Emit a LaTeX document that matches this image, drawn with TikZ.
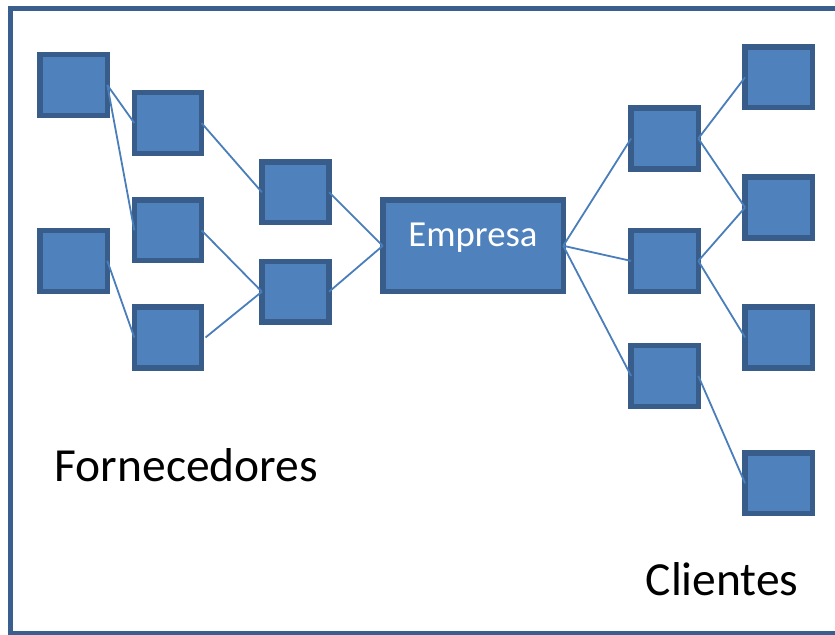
\documentclass[tikz,border=0pt]{standalone}
\usepackage{fontspec}
\setmainfont{Carlito}
\definecolor{boxfill}{HTML}{4F81BD}
\definecolor{boxline}{HTML}{385D8A}
\definecolor{frameline}{HTML}{3A5F8E}
\definecolor{conn}{HTML}{4A7EBB}
\tikzset{
  unit/.style={draw=boxline, fill=boxfill, line width=5.5bp, minimum width=67.2bp, minimum height=60.8bp, inner sep=0pt, outer sep=0pt},
  hub/.style={draw=boxline, fill=boxfill, line width=5.5bp, minimum width=180.5bp, minimum height=91.5bp, inner sep=0pt, outer sep=0pt},
  link/.style={draw=conn, line width=1.8bp},
  caption/.style={font=\fontsize{47.5bp}{52bp}\selectfont, text=black, inner sep=0pt, anchor=base west}
}
\begin{document}
\begin{tikzpicture}[x=1bp, y=-1bp]
\useasboundingbox (0,0) rectangle (835,635);
\clip (0,0) rectangle (835,635);
\draw[frameline, line width=5bp] (10,8.5) rectangle (845,633.5);
% suppliers
\node[unit] (a1) at (73.7,85) {};
\node[unit] (a2) at (73.7,260.9) {};
\node[unit] (b1) at (167.9,123) {};
\node[unit] (b2) at (167.9,230.3) {};
\node[unit] (b3) at (167.9,337.5) {};
\node[unit] (c1) at (295.5,192.2) {};
\node[unit] (c2) at (295.5,291.7) {};
% company
\node[hub] (emp) at (473,245.8) {};
\node[font=\fontsize{36.7bp}{40bp}\selectfont, text=white, inner sep=0pt, anchor=base] (emptxt) at (473,247) {Empresa};
% clients
\node[unit] (d1) at (664.7,138.5) {};
\node[unit] (d2) at (664.7,260.9) {};
\node[unit] (d3) at (664.7,375.9) {};
\node[unit] (e1) at (778.7,77.3) {};
\node[unit] (e2) at (778.7,207.5) {};
\node[unit] (e3) at (778.7,337.5) {};
\node[unit] (e4) at (778.7,483.3) {};
% connectors
\draw[link] (a1.east) -- (b1.west);
\draw[link] (a1.east) -- (b2.west);
\draw[link] (a2.east) -- (b3.west);
\draw[link] (b1.east) -- (c1.west);
\draw[link] (b2.east) -- (c2.west);
\draw[link] ([xshift=4bp]b3.east) -- (c2.west);
\draw[link] (c1.east) -- (emp.west);
\draw[link] (c2.east) -- (emp.west);
\draw[link] (emp.east) -- (d1.west);
\draw[link] (emp.east) -- (d2.west);
\draw[link] (emp.east) -- (d3.west);
\draw[link] (d1.east) -- (e1.west);
\draw[link] (d1.east) -- (e2.west);
\draw[link] (d2.east) -- (e2.west);
\draw[link] (d2.east) -- (e3.west);
\draw[link] (d3.east) -- (e4.west);
% labels
\node[caption] (forn) at (54.5,481.7) {Fornecedores};
\node[caption] (cli) at (645.5,595) {Clientes};
\end{tikzpicture}
\end{document}
